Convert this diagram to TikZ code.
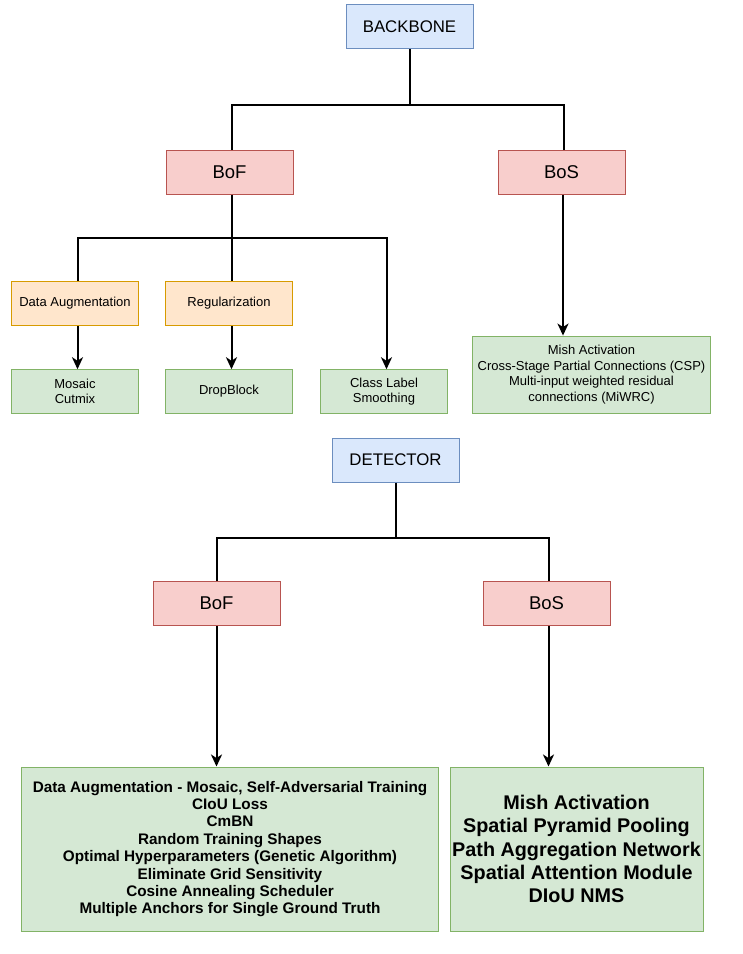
\documentclass[tikz,border=0pt]{standalone}
\usepackage{fontspec}
\setmainfont{Liberation Sans}
\usetikzlibrary{arrows.meta}
\definecolor{bluefill}{HTML}{DAE8FC}
\definecolor{bluedraw}{HTML}{6C8EBF}
\definecolor{redfill}{HTML}{F8CECC}
\definecolor{reddraw}{HTML}{B85450}
\definecolor{orangefill}{HTML}{FFE6CC}
\definecolor{orangedraw}{HTML}{D79B00}
\definecolor{greenfill}{HTML}{D5E8D4}
\definecolor{greendraw}{HTML}{82B366}
\tikzset{
  box/.style={rectangle, inner sep=0pt, line width=1pt, align=center, text=black},
  bluebox/.style={box, fill=bluefill, draw=bluedraw, minimum width=127pt, minimum height=44pt, font=\fontsize{16.8}{19}\selectfont},
  redbox/.style={box, fill=redfill, draw=reddraw, minimum width=127pt, minimum height=44pt, font=\fontsize{18.5}{21}\selectfont},
  orangebox/.style={box, fill=orangefill, draw=orangedraw, minimum width=127pt, minimum height=44pt, font=\fontsize{13}{15.4}\selectfont},
  greenbox/.style={box, fill=greenfill, draw=greendraw, minimum width=127pt, minimum height=43.5pt, font=\fontsize{13}{15.4}\selectfont},
  conn/.style={draw=black, line width=2pt},
  connb/.style={draw=black, line width=2pt},
  arr/.style={-{Stealth[length=12pt, width=11pt, inset=3.5pt]}},
}
\begin{document}
\begin{tikzpicture}[x=1pt, y=-1pt]
\useasboundingbox[fill=white] (0,0) rectangle (743,954);

% ---------- BACKBONE ----------
\node[bluebox] (backbone) at (409.5,26.5) {BACKBONE};
\node[redbox] (bof1) at (229.5,172) {BoF};
\node[redbox] (bos1) at (561.5,172) {BoS};
\node[orangebox] (dataaug) at (75,303.5) {Data Augmentation};
\node[orangebox] (regul) at (229,303.5) {Regularization};
\node[greenbox] (mosaic) at (75,391.5) {Mosaic\\Cutmix};
\node[greenbox] (dropblock) at (229,391.5) {DropBlock};
\node[greenbox] (classlabel) at (384,391.5) {Class Label\\Smoothing};
\node[greenbox, minimum width=237.5pt, minimum height=77.3pt] (bosbb) at (591.5,374.7) {Mish Activation\\Cross-Stage Partial Connections (CSP)\\Multi-input weighted residual\\connections (MiWRC)};

\coordinate (j1) at (409.5,105);
\coordinate (j2) at (231.5,237.5);

\draw[conn] (backbone.south) -- (j1) -| ([xshift=2pt]bof1.north);
\draw[conn] (j1) -| ([xshift=2pt]bos1.north);
\draw[conn] ([xshift=2pt]bof1.south) -- (j2) -| ([xshift=2.5pt]dataaug.north);
\draw[conn] (j2) -- (j2 |- regul.north);
\draw[conn, arr] (j2) -| ([xshift=2.5pt]classlabel.north);
\draw[conn, arr] ([xshift=2.5pt]dataaug.south) -- ([xshift=2.5pt]mosaic.north);
\draw[conn, arr] ([xshift=2.5pt]regul.south) -- ([xshift=2.5pt]dropblock.north);
\draw[conn, arr] ([xshift=1.5pt]bos1.south) -- ([xshift=1.5pt]bos1.south |- bosbb.north);

% ---------- DETECTOR ----------
\node[bluebox] (detector) at (395.5,460) {DETECTOR};
\node[redbox] (bof2) at (216.5,603.5) {BoF};
\node[redbox] (bos2) at (546.5,603.5) {BoS};
\node[greenbox, minimum width=417pt, minimum height=164pt, font=\bfseries\fontsize{15.3}{17.4}\selectfont] (bofdet) at (230,849)
  {Data Augmentation - Mosaic, Self-Adversarial Training\\CIoU Loss\\CmBN\\Random Training Shapes\\Optimal Hyperparameters (Genetic Algorithm)\\Eliminate Grid Sensitivity\\Cosine Annealing Scheduler\\Multiple Anchors for Single Ground Truth};
\node[greenbox, minimum width=253pt, minimum height=164pt, font=\bfseries\fontsize{19.8}{23.2}\selectfont] (bosdet) at (576.5,849)
  {Mish Activation\\Spatial Pyramid Pooling\\Path Aggregation Network\\Spatial Attention Module\\DIoU NMS};

\coordinate (j3) at (395.5,538);
\draw[connb] (detector.south) -- (j3) -| (bof2.north);
\draw[connb] (j3) -| ([xshift=2pt]bos2.north);
\draw[connb, arr] (bof2.south) -- (bof2.south |- bofdet.north);
\draw[connb, arr] ([xshift=2pt]bos2.south) -- ([xshift=2pt]bos2.south |- bosdet.north);
\end{tikzpicture}
\end{document}
